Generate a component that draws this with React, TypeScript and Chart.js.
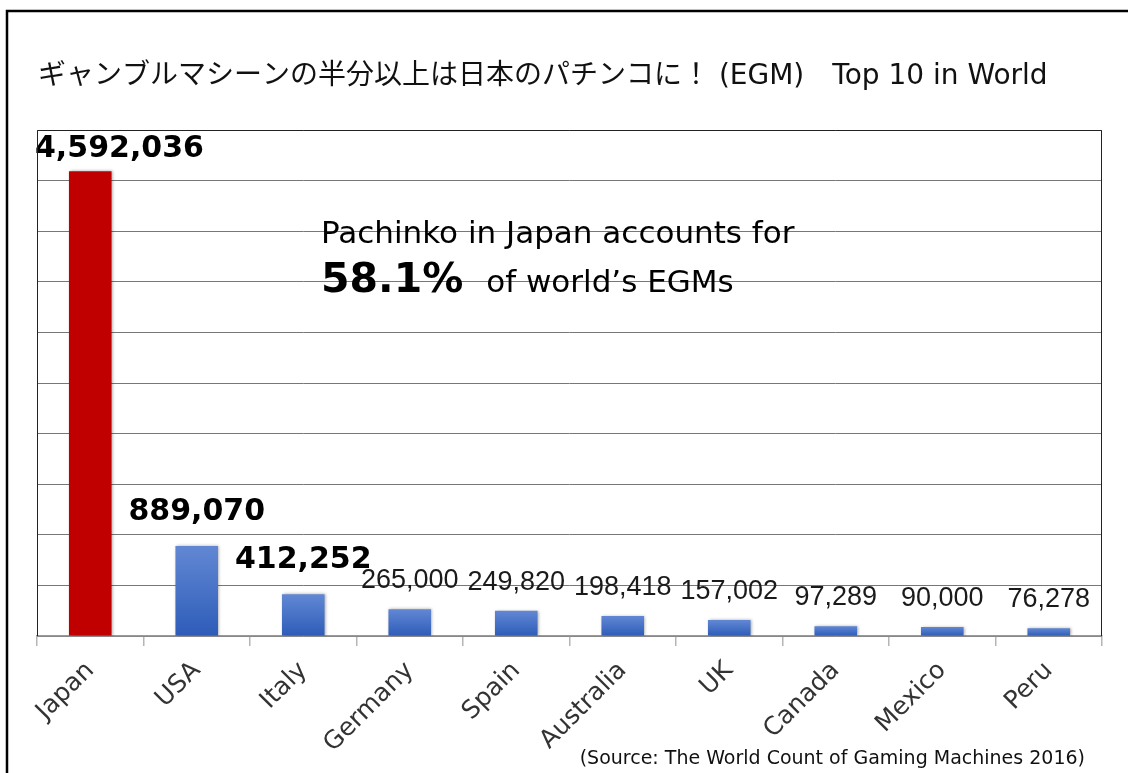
import React, { useEffect, useRef } from "react";
import { Chart, registerables } from "chart.js";

Chart.register(...registerables);

const countries = ["Japan", "USA", "Italy", "Germany", "Spain", "Australia", "UK", "Canada", "Mexico", "Peru"];
const machines = [4592036, 889070, 412252, 265000, 249820, 198418, 157002, 97289, 90000, 76278];
const boldLabelCount = 3;
const yMax = 5000000;
const yStep = 500000;

const titleText = "ギャンブルマシーンの半分以上は日本のパチンコに！ (EGM)　Top 10 in World";
const noteLine1 = "Pachinko in Japan accounts for";
const noteShare = "58.1%";
const noteRest = "of world’s EGMs";
const sourceText = "(Source: The World Count of Gaming Machines 2016)";

const RED = "#c00000";
const BLUE_TOP = "#6288d4";
const BLUE_BOTTOM = "#2d5cb8";

const barFill = (ctx: any) => {
  const chart = ctx.chart;
  const i = ctx.dataIndex;
  if (i === 0) return RED;
  const y = chart.scales?.y;
  if (!y || i === undefined) return BLUE_BOTTOM;
  const top = y.getPixelForValue(machines[i]);
  const bottom = y.getPixelForValue(0);
  if (!isFinite(top) || !isFinite(bottom) || top === bottom) return BLUE_BOTTOM;
  const g = chart.ctx.createLinearGradient(0, top, 0, bottom);
  g.addColorStop(0, BLUE_TOP);
  g.addColorStop(1, BLUE_BOTTOM);
  return g;
};

const decorPlugin = {
  id: "decor",
  beforeDraw(chart: any) {
    const { ctx, width, height } = chart;
    ctx.save();
    ctx.fillStyle = "#ffffff";
    ctx.fillRect(0, 0, width, height);
    ctx.restore();
  },
  beforeDatasetsDraw(chart: any) {
    const ctx = chart.ctx;
    ctx.save();
    ctx.shadowColor = "rgba(0,0,0,0.35)";
    ctx.shadowBlur = 3;
    ctx.shadowOffsetX = 1;
    ctx.shadowOffsetY = 0;
  },
  afterDatasetsDraw(chart: any) {
    const ctx = chart.ctx;
    ctx.restore();
    const area = chart.chartArea;
    const meta = chart.getDatasetMeta(0);
    ctx.save();
    meta.data.forEach((bar: any, i: number) => {
      const text = machines[i].toLocaleString("en-US");
      const bold = i < boldLabelCount;
      if (bold) {
        ctx.font = 'bold 30px "DejaVu Sans", sans-serif';
        ctx.fillStyle = "#000";
      } else {
        ctx.font = '27px "Liberation Sans", sans-serif';
        ctx.fillStyle = "#1a1a1a";
      }
      const w = ctx.measureText(text).width;
      let x = bar.x;
      if (x - w / 2 < area.left - 2) x = area.left - 2 + w / 2;
      let y = bar.y - (bold ? 26 : 21);
      if (y < area.top + 27) y = area.top + 27;
      ctx.textAlign = "center";
      ctx.textBaseline = "alphabetic";
      ctx.fillText(text, x, y);
    });
    ctx.restore();
  },
  afterDraw(chart: any) {
    const ctx = chart.ctx;
    const area = chart.chartArea;
    ctx.save();
    // outer frame
    ctx.strokeStyle = "#000";
    ctx.lineWidth = 2.5;
    ctx.beginPath();
    ctx.moveTo(7, chart.height + 5);
    ctx.lineTo(7, 11);
    ctx.lineTo(chart.width + 5, 11);
    ctx.stroke();
    // plot frame
    ctx.strokeStyle = "#222";
    ctx.lineWidth = 1;
    ctx.beginPath();
    const l = Math.round(area.left) + 0.5;
    const r = Math.round(area.right) - 0.5;
    const t = Math.round(area.top) + 0.5;
    const b = Math.round(area.bottom);
    ctx.moveTo(l, b);
    ctx.lineTo(l, t);
    ctx.lineTo(r, t);
    ctx.lineTo(r, b);
    ctx.stroke();
    // title
    ctx.fillStyle = "#111";
    ctx.textAlign = "left";
    ctx.textBaseline = "alphabetic";
    ctx.font = '28px "DejaVu Sans", "Noto Sans CJK JP", sans-serif';
    ctx.fillText(titleText, 38, 84);
    // note
    ctx.fillStyle = "#000";
    ctx.font = '31px "DejaVu Sans", sans-serif';
    ctx.fillText(noteLine1, 321, 243);
    ctx.font = 'bold 41px "DejaVu Sans", sans-serif';
    ctx.fillText(noteShare, 321, 292);
    const sw = ctx.measureText(noteShare).width;
    ctx.font = '31px "DejaVu Sans", sans-serif';
    ctx.fillText(noteRest, 321 + sw + 23, 292);
    // source
    ctx.font = '19px "DejaVu Sans", sans-serif';
    ctx.textAlign = "right";
    ctx.fillStyle = "#111";
    ctx.fillText(sourceText, 1085, 764);
    ctx.restore();
  },
};

export default function App() {
  const canvasRef = useRef<HTMLCanvasElement | null>(null);

  useEffect(() => {
    const canvas = canvasRef.current;
    if (!canvas) return;
    const chart = new Chart(canvas, {
      type: "bar",
      data: {
        labels: countries,
        datasets: [
          {
            label: "EGMs",
            data: machines,
            backgroundColor: barFill as any,
            borderWidth: 0,
            barPercentage: 0.4,
            categoryPercentage: 1,
          },
        ],
      },
      options: {
        responsive: false,
        animation: false,
        devicePixelRatio: 1,
        layout: { padding: { left: 37, top: 130, right: 26, bottom: 0 } },
        plugins: {
          legend: { display: false },
          tooltip: { enabled: false },
          title: { display: false },
        },
        scales: {
          x: {
            afterFit: (s: any) => {
              s.height = 137;
            },
            grid: {
              display: true,
              offset: true,
              drawOnChartArea: false,
              drawTicks: true,
              tickLength: 10,
              color: "#b5b5b5",
              lineWidth: 1.5,
            },
            border: { display: true, color: "#9a9a9a", width: 1.5 },
            ticks: {
              autoSkip: false,
              maxRotation: 45,
              minRotation: 45,
              padding: 10,
              color: "#333",
              font: { family: "DejaVu Sans", size: 25 },
            },
          },
          y: {
            min: 0,
            max: yMax,
            afterFit: (s: any) => {
              s.width = 0;
            },
            grid: {
              display: true,
              drawTicks: false,
              color: "#777777",
              lineWidth: 1,
            },
            border: { display: false },
            ticks: { display: false, stepSize: yStep },
          },
        },
      },
      plugins: [decorPlugin],
    });
    return () => chart.destroy();
  }, []);

  return (
    <div style={{ position: "fixed", left: 0, top: 0, width: 1128, height: 773, background: "#fff" }}>
      <canvas ref={canvasRef} width={1128} height={773} style={{ display: "block" }} />
    </div>
  );
}
